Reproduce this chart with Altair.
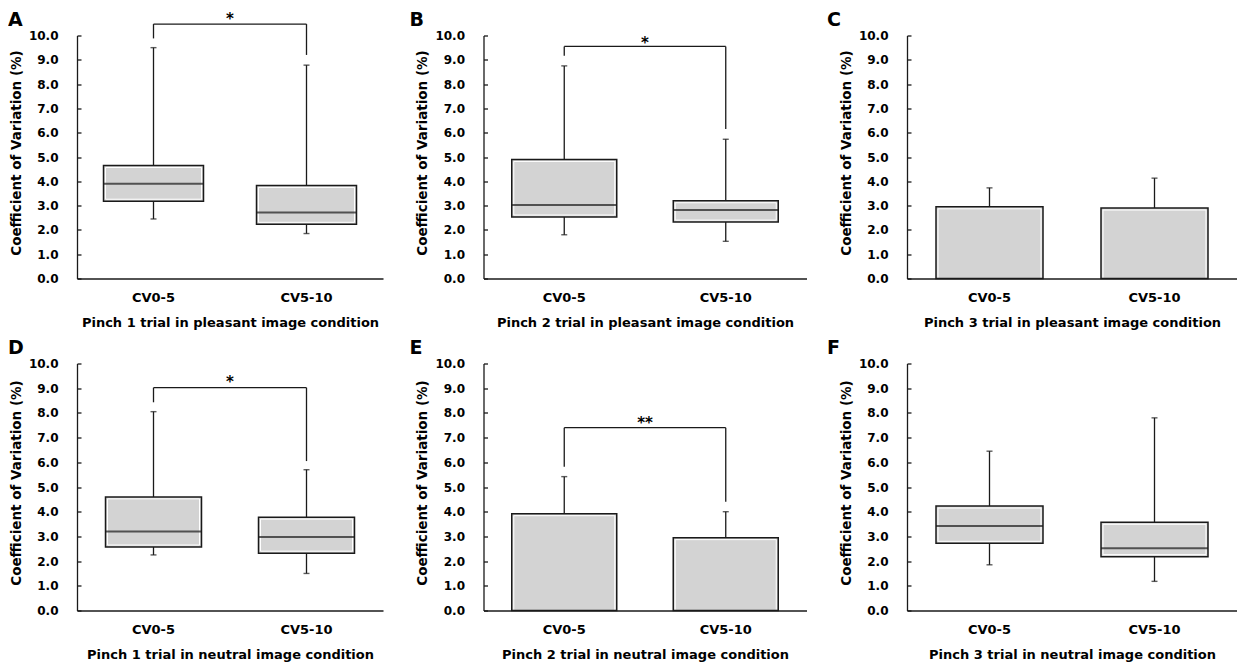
import altair as alt
import pandas as pd

# ---------------- data ----------------
CATS = ["CV0-5", "CV5-10"]
LETTERS = ["A", "B", "C", "D", "E", "F"]
XTITLES = [
    "Pinch 1 trial in pleasant image condition",
    "Pinch 2 trial in pleasant image condition",
    "Pinch 3 trial in pleasant image condition",
    "Pinch 1 trial in neutral image condition",
    "Pinch 2 trial in neutral image condition",
    "Pinch 3 trial in neutral image condition",
]
Y_TITLE = "Coefficient of Variation (%)"
Y_TICKS = [0, 1, 2, 3, 4, 5, 6, 7, 8, 9, 10]

# box plots, values for [CV0-5, CV5-10]
A_low = [2.45, 1.85]
A_q1 = [3.18, 2.23]
A_med = [3.90, 2.72]
A_q3 = [4.65, 3.83]
A_high = [9.50, 8.78]

B_low = [1.80, 1.53]
B_q1 = [2.53, 2.32]
B_med = [3.02, 2.82]
B_q3 = [4.90, 3.20]
B_high = [8.75, 5.73]

D_low = [2.25, 1.50]
D_q1 = [2.57, 2.32]
D_med = [3.20, 2.98]
D_q3 = [4.60, 3.78]
D_high = [8.05, 5.70]

F_low = [1.85, 1.18]
F_q1 = [2.72, 2.18]
F_med = [3.42, 2.52]
F_q3 = [4.23, 3.57]
F_high = [6.45, 7.80]

# bar panels (mean with upper SD)
C_mean = [2.95, 2.90]
C_top = [3.73, 4.13]
E_mean = [3.92, 2.95]
E_top = [5.42, 4.00]

# significance brackets
SIG_PANELS = ["A", "B", "D", "E"]
SIG_LABEL = ["*", "*", "*", "**"]
SIG_BAR = [10.47, 9.55, 9.02, 7.40]
SIG_LEFT_END = [9.88, 9.17, 8.43, 5.82]
SIG_RIGHT_END = [9.20, 6.15, 6.05, 4.40]
SIG_STAR = [10.80, 9.83, 9.37, 7.72]

# ---------------- style ----------------
FONT = "DejaVu Sans"
INK = "#1a1a1a"
FILL = "#d3d3d3"
COL_W = [306, 323, 330]
ROW_H = [243, 247]
BOX_W = {"A": 100, "B": 105, "C": 107, "D": 96, "E": 105, "F": 107}
LETTER_DX = [-69, -74, -80]
XSCALE = alt.Scale(domain=CATS, paddingInner=0, paddingOuter=0)
YSCALE = alt.Scale(domain=[0, 10], nice=False)


def make_x_axis(title):
    return alt.Axis(
        title=title, labelAngle=0, ticks=False, tickSize=0,
        labelPadding=13, titlePadding=12, labelFontSize=13, titleFontSize=13,
    )


def make_y_axis(h):
    return alt.Axis(
        title=Y_TITLE, values=Y_TICKS, format=".1f", grid=False,
        ticks=False, tickSize=0, labelPadding=19, titlePadding=5,
        labelFontSize=12, titleFontSize=13.5, labelOverlap=False,
        titleY=h / 2 - 4.5,
    )


def make_tick_axis(w):
    # inward-pointing y ticks: a right-oriented axis moved onto the left edge
    return alt.Axis(
        orient="right", offset=-w, values=Y_TICKS, labels=False, domain=False,
        ticks=True, tickSize=4, grid=False, title=None,
    )


class Enc:
    def __init__(self, xt, w, h):
        self.xa = make_x_axis(xt)
        self.ya = make_y_axis(h)

    def x(self, field="cat", **kw):
        return alt.X(f"{field}:N", sort=CATS, scale=XSCALE, axis=self.xa, **kw)

    def y(self, field):
        return alt.Y(f"{field}:Q", scale=YSCALE, axis=self.ya)


def box_layers(letter, e, low, q1, med, q3, high):
    df = pd.DataFrame({"cat": CATS, "low": low, "q1": q1, "med": med, "q3": q3, "high": high})
    bw = BOX_W[letter]
    whisk = alt.Chart(df).mark_rule(color=INK, strokeWidth=1.3).encode(
        x=e.x(), y=e.y("low"), y2="high"
    )
    box = alt.Chart(df).mark_bar(size=bw, fill=FILL, strokeWidth=0).encode(
        x=e.x(), y=e.y("q1"), y2="q3"
    )
    inner = alt.Chart(df).mark_bar(
        size=bw - 4, fillOpacity=0, stroke="#ffffff", strokeWidth=1,
        yOffset=-2, y2Offset=2,
    ).encode(x=e.x(), y=e.y("q1"), y2="q3")
    outline = alt.Chart(df).mark_bar(size=bw, fillOpacity=0, stroke=INK, strokeWidth=1.5).encode(
        x=e.x(), y=e.y("q1"), y2="q3"
    )
    median = alt.Chart(df).mark_tick(size=bw, thickness=2, color=INK).encode(
        x=e.x(), y=e.y("med")
    )
    caps_df = pd.DataFrame({"cat": CATS + CATS, "v": list(low) + list(high)})
    caps = alt.Chart(caps_df).mark_tick(size=6, thickness=1.4, color=INK).encode(
        x=e.x(), y=e.y("v")
    )
    return [whisk, box, inner, outline, median, caps]


def bar_layers(letter, e, mean, top):
    df = pd.DataFrame({"cat": CATS, "mean": mean, "top": top, "zero": [0, 0]})
    bw = BOX_W[letter]
    bars = alt.Chart(df).mark_bar(size=bw, fill=FILL, strokeWidth=0).encode(
        x=e.x(), y=e.y("mean")
    )
    inner = alt.Chart(df).mark_bar(
        size=bw - 4, fillOpacity=0, stroke="#ffffff", strokeWidth=1, y2Offset=2,
    ).encode(x=e.x(), y=e.y("zero"), y2="mean")
    outline = alt.Chart(df).mark_bar(size=bw, fillOpacity=0, stroke=INK, strokeWidth=1.5).encode(
        x=e.x(), y=e.y("mean")
    )
    err = alt.Chart(df).mark_rule(color=INK, strokeWidth=1.3).encode(
        x=e.x(), y=e.y("mean"), y2="top"
    )
    cap = alt.Chart(df).mark_tick(size=6, thickness=1.4, color=INK).encode(
        x=e.x(), y=e.y("top")
    )
    return [bars, inner, outline, err, cap]


def sig_layers(letter, e):
    if letter not in SIG_PANELS:
        return []
    i = SIG_PANELS.index(letter)
    bar_df = pd.DataFrame({"a": [CATS[0]], "b": [CATS[1]], "yb": [SIG_BAR[i]],
                           "ys": [SIG_STAR[i]], "lab": [SIG_LABEL[i]]})
    legs_df = pd.DataFrame({"cat": CATS, "top": [SIG_BAR[i], SIG_BAR[i]],
                            "end": [SIG_LEFT_END[i], SIG_RIGHT_END[i]]})
    hline = alt.Chart(bar_df).mark_rule(color=INK, strokeWidth=1.3).encode(
        x=e.x("a"), x2="b", y=e.y("yb")
    )
    legs = alt.Chart(legs_df).mark_rule(color=INK, strokeWidth=1.3).encode(
        x=e.x(), y=e.y("top"), y2="end"
    )
    star = alt.Chart(bar_df).mark_text(
        font=FONT, fontSize=15, fontWeight="bold", color="#000000",
        baseline="alphabetic", dy=8,
    ).encode(x=e.x("a", bandPosition=1), y=e.y("ys"), text="lab:N")
    return [hline, legs, star]


def letter_layer(letter, col):
    return alt.Chart(pd.DataFrame({"t": [letter]})).mark_text(
        font=FONT, fontSize=19, fontWeight="bold", color="#000000",
        align="left", baseline="alphabetic"
    ).encode(x=alt.value(LETTER_DX[col]), y=alt.value(-9.5), text="t:N")


def tick_layer(w):
    df = pd.DataFrame({"v": Y_TICKS})
    return alt.Chart(df).mark_point(opacity=0, size=1).encode(
        y=alt.Y("v:Q", scale=YSCALE, axis=make_tick_axis(w))
    )


box_data = {
    "A": (A_low, A_q1, A_med, A_q3, A_high),
    "B": (B_low, B_q1, B_med, B_q3, B_high),
    "D": (D_low, D_q1, D_med, D_q3, D_high),
    "F": (F_low, F_q1, F_med, F_q3, F_high),
}
bar_data = {"C": (C_mean, C_top), "E": (E_mean, E_top)}

panels = []
for idx, letter in enumerate(LETTERS):
    row, col = divmod(idx, 3)
    w, h = COL_W[col], ROW_H[row]
    e = Enc(XTITLES[idx], w, h)
    if letter in box_data:
        layers = box_layers(letter, e, *box_data[letter])
    else:
        layers = bar_layers(letter, e, *bar_data[letter])
    layers += sig_layers(letter, e)
    layers.append(letter_layer(letter, col))
    main = alt.layer(*layers)
    panel = alt.layer(main, tick_layer(w)).resolve_axis(y="independent")
    panels.append(panel.properties(width=w, height=h))

chart = alt.concat(
    *panels, columns=3, spacing={"row": 85, "column": 100.5}, bounds="flush",
    padding={"top": 2.5, "left": 0, "right": 0, "bottom": 0},
).configure_view(stroke=None).configure_axis(
    labelFont=FONT, titleFont=FONT, labelFontWeight="bold", titleFontWeight="bold",
    labelColor="#000000", titleColor="#000000", tickColor=INK, domainColor=INK,
    tickWidth=1.3, domainWidth=1.3,
).configure_axisLeft(
    labelFontSize=12, titleFontSize=13.5,
).configure_axisBottom(
    labelFontSize=13, titleFontSize=13,
)

chart.save("out.html", embed_options={"renderer": "svg", "actions": False})
